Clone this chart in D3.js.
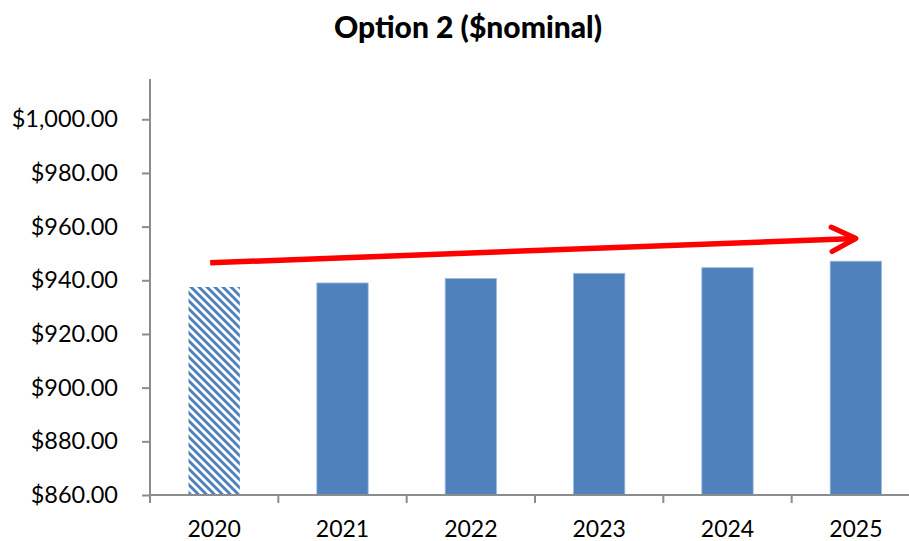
<!DOCTYPE html>
<html>
<head>
<meta charset="utf-8">
<script src="https://cdn.jsdelivr.net/npm/d3@7"></script>
<style>
  html, body { margin: 0; padding: 0; background: #fff; }
  svg { display: block; }
  text { font-family: Lato, "Open Sans", sans-serif; fill: #000; }
</style>
</head>
<body>
<svg id="chart" width="909" height="541"></svg>
<script>
// ---- data ----
const title = "Option 2 ($nominal)";
const categories = ["2020", "2021", "2022", "2023", "2024", "2025"];
const values = [937.5, 939.0, 940.7, 942.6, 944.7, 947.1];
const hatched = [true, false, false, false, false, false];
const yTicks = [860, 880, 900, 920, 940, 960, 980, 1000];
const yDomain = [860, 1015];
const arrowFrom = ["2020", 946.5];
const arrowTo = ["2025", 955.6];

// ---- layout ----
const svg = d3.select("#chart");
const plot = { left: 150, right: 920, top: 79, bottom: 495 };
const axisColor = "#8c8c8c";
const barColor = "#4f81bd";

const x = d3.scaleBand().domain(categories).range([plot.left, plot.right])
  .paddingInner(0.6).paddingOuter(0.3);
const xStep = d3.scaleBand().domain(categories).range([plot.left, plot.right]);
const y = d3.scaleLinear().domain(yDomain).range([plot.bottom, plot.top]);

// pattern
const defs = svg.append("defs");
const pat = defs.append("pattern").attr("id", "hatch")
  .attr("patternUnits", "userSpaceOnUse").attr("width", 8).attr("height", 8);
pat.append("rect").attr("width", 8).attr("height", 8).attr("fill", "#ffffff");
pat.append("path")
  .attr("d", "M-2,-2 L10,10 M-2,6 L2,10 M6,-2 L10,2")
  .attr("stroke", barColor).attr("stroke-width", 2.9);

const marker = defs.append("marker").attr("id", "arrowhead")
  .attr("viewBox", "0 0 12 12").attr("refX", 10).attr("refY", 6)
  .attr("markerWidth", 6).attr("markerHeight", 6)
  .attr("markerUnits", "strokeWidth").attr("orient", "auto");
marker.append("path").attr("d", "M1.2,1.6 L10,6 L1.2,10.4")
  .attr("fill", "none").attr("stroke", "#ff0000").attr("stroke-width", 1.9)
  .attr("stroke-linecap", "round").attr("stroke-linejoin", "round");

// title
svg.append("text").attr("x", 468).attr("y", 38).attr("text-anchor", "middle")
  .attr("font-weight", "900").attr("font-size", 30).text(title);

// bars
svg.append("g").selectAll("rect").data(categories).join("rect")
  .attr("x", d => x(d))
  .attr("y", (d, i) => y(values[i]))
  .attr("width", x.bandwidth())
  .attr("height", (d, i) => y(yDomain[0]) - y(values[i]))
  .attr("fill", (d, i) => hatched[i] ? "url(#hatch)" : barColor)
  .attr("stroke", (d, i) => hatched[i] ? "none" : "#9fb9dc")
  .attr("stroke-width", 0.8);

// y axis
const yAxis = d3.axisLeft(y).tickValues(yTicks).tickSize(8).tickPadding(24)
  .tickFormat(d => "$" + d3.format(",.2f")(d));
const gy = svg.append("g").attr("transform", `translate(${plot.left},0)`).call(yAxis);
gy.select(".domain").attr("d", `M0,${plot.top}V${plot.bottom}`);
gy.selectAll("path, line").attr("stroke", axisColor).attr("stroke-width", 2);
gy.selectAll("text").attr("font-size", 23.5).attr("font-family", "Lato, sans-serif").attr("fill", "#000");

// x axis
const xAxis = d3.axisBottom(x).tickSize(0).tickPadding(26);
const gx = svg.append("g").attr("transform", `translate(0,${plot.bottom})`).call(xAxis);
gx.select(".domain").attr("d", `M${plot.left},0H${plot.right}`)
  .attr("stroke", axisColor).attr("stroke-width", 2);
gx.selectAll("text").attr("font-size", 23).attr("font-family", "Lato, sans-serif").attr("fill", "#000");
// category boundary ticks
const bounds = categories.map(c => xStep(c)).concat([plot.right]);
gx.append("g").selectAll("line").data(bounds).join("line")
  .attr("x1", d => d).attr("x2", d => d).attr("y1", 0).attr("y2", 8)
  .attr("stroke", axisColor).attr("stroke-width", 2);

// arrow
const ax = c => x(c) + x.bandwidth() / 2;
svg.append("line")
  .attr("x1", ax(arrowFrom[0]) - 4).attr("y1", y(arrowFrom[1]))
  .attr("x2", ax(arrowTo[0])).attr("y2", y(arrowTo[1]))
  .attr("stroke", "#ff0000").attr("stroke-width", 5.5)
  .attr("marker-end", "url(#arrowhead)");
</script>
</body>
</html>
